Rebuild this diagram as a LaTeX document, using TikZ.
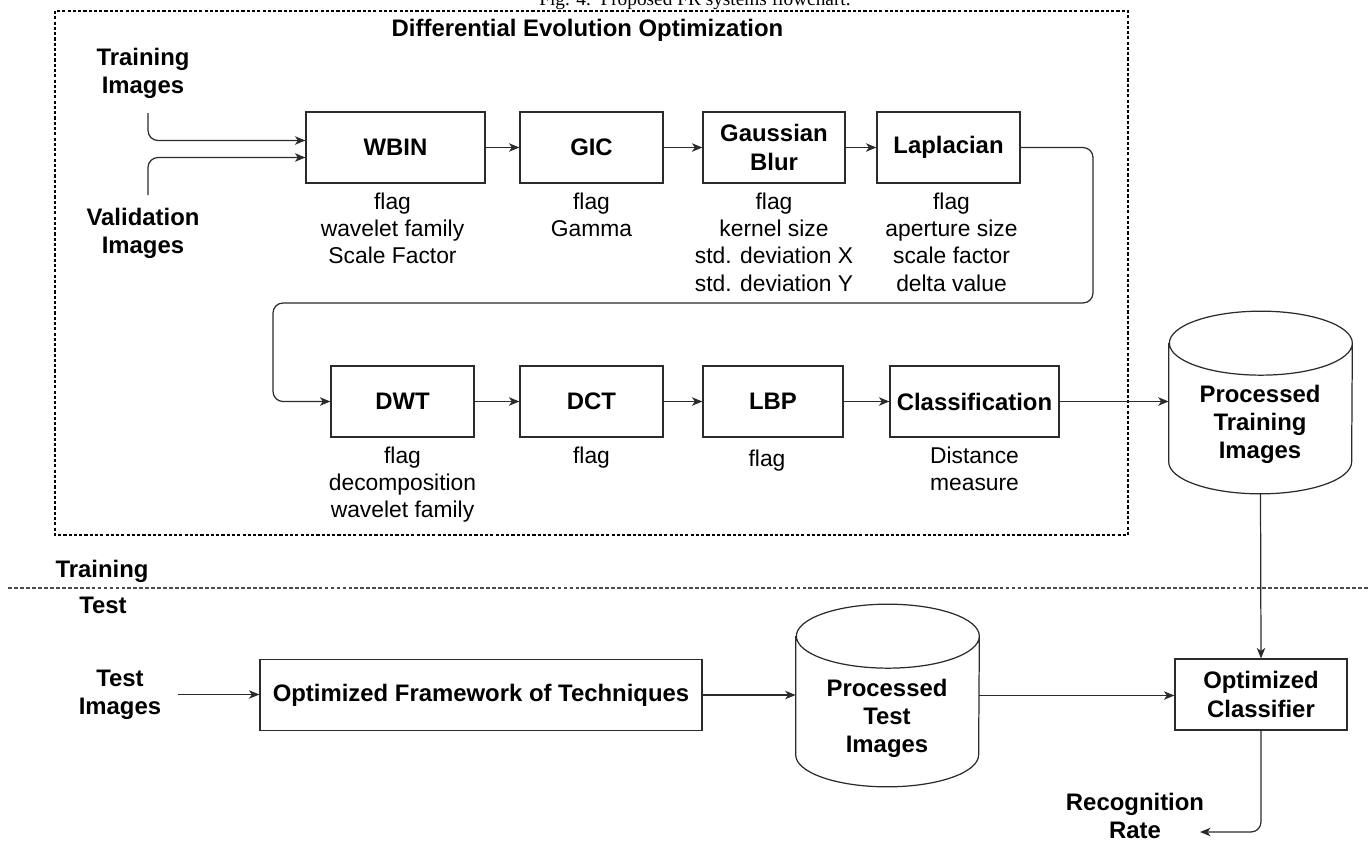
\documentclass[tikz,border=0pt]{standalone}
\usepackage{fontspec}
\setmainfont{Liberation Sans}
\newfontfamily\captionserif{Liberation Serif}
\usetikzlibrary{positioning}
\usetikzlibrary{arrows.meta}
\definecolor{linegray}{HTML}{2b2b2b}
\tikzset{x=0.02cm, y=-0.02cm, % one unit is one pixel of the original drawing
    every node/.style={font=\fontsize{13}{15.5}\selectfont},
    block/.style={ % Processing steps
        draw=linegray, line width=0.7pt,
        minimum height=1.42cm, inner sep=0pt, align=center,
        font=\fontsize{13.6}{16}\selectfont\bfseries
    },
    param/.style={align=center, inner sep=0pt}, % Parameters below a step
    title/.style={align=center, inner sep=1pt, font=\fontsize{13.6}{16}\selectfont\bfseries},
    flow/.style={draw=linegray, line width=0.7pt,
        -{Stealth[length=2.1mm, width=1.7mm, inset=0.6mm]}},
    region/.style={draw=black, line width=0.6pt, dash pattern=on 1.8pt off 1.2pt},
    sepline/.style={draw=black!70, line width=0.6pt, dash pattern=on 2.2pt off 1.2pt},
    cylbox/.style={minimum width=3.66cm, minimum height=3.64cm, inner sep=0pt}
}
% Outline of a data store around an empty node
\newcommand{\drawcylinder}[1]{%
    \draw[draw=linegray, line width=0.7pt]
        ([yshift=-0.64cm]#1.north west) -- ([yshift=0.64cm]#1.south west)
        arc[start angle=180, end angle=360, x radius=1.83cm, y radius=0.64cm]
        -- ([yshift=-0.64cm]#1.north east)
        arc[start angle=0, end angle=180, x radius=1.83cm, y radius=0.64cm]
        arc[start angle=180, end angle=360, x radius=1.83cm, y radius=0.64cm];}

\begin{document}
\begin{tikzpicture}
\useasboundingbox (0,0) rectangle (1369,842);

\node[font=\captionserif\fontsize{11}{13}\selectfont, anchor=base] (figcap) at (695,5) {Fig. 4.~~Proposed FR systems flowchart.};
\draw[region] (55,11) rectangle (1128,535);
\node[title] (deo) at (587.5,30) {Differential Evolution Optimization};

\node[title] (trimg) at (143,73) {Training\\Images};
\node[title] (vaimg) at (143,233.5) {Validation\\Images};
\coordinate (trstart) at (148,113);
\coordinate (vastart) at (148,195);

%%%%%%%%%%%%%%%%%%%%%%%%%%%%%%%%%%
\node[block, minimum width=3.58cm] (wbin)  at (395.5,147.5) {WBIN};
\node[block, minimum width=2.86cm] (gic)   at (591.5,147.5) {GIC};
\node[block, minimum width=2.84cm] (gblur) at (774,147.5)   {Gaussian\\Blur};
\node[block, minimum width=2.86cm] (lap)   at (948.5,147.5) {Laplacian};

\node[param, below=0.18cm of wbin, xshift=-0.06cm] (wbinp)  {flag\\wavelet family\\Scale Factor};
\node[param, below=0.18cm of gic]                 (gicp)   {flag\\Gamma};
\node[param, below=0.18cm of gblur]               (gblurp) {flag\\kernel size\\std. deviation X\\std. deviation Y};
\node[param, below=0.18cm of lap, xshift=0.06cm]  (lapp)   {flag\\aperture size\\scale factor\\delta value};

%%%%%%%%%%%%%%%%%%%%%%%%%%%%%%%%%%
\node[block, minimum width=2.86cm] (dwt) at (402.5,401.5) {DWT};
\node[block, minimum width=2.86cm] (dct) at (591.5,401.5) {DCT};
\node[block, minimum width=2.80cm] (lbp) at (773,401.5)   {LBP};
\node[block, minimum width=3.38cm] (cls) at (974.5,401.5) {Classification};

\node[param, below=0.18cm of dwt]                 (dwtp) {flag\\decomposition\\wavelet family};
\node[param, below=0.18cm of dct]                 (dctp) {flag};
\node[param, below=0.24cm of lbp, xshift=-0.12cm] (lbpp) {flag};
\node[param, below=0.18cm of cls]                 (clsp) {Distance\\measure};

\node[cylbox] (ptrain) at (1260.5,402.5) {};
\drawcylinder{ptrain}
\node[title] (ptrainlbl) at (1260,424.5) {Processed\\Training\\Images};

%%%%%%%%%%%%%%%%%%%%%%%%%%%%%%%%%%
\draw[sepline] (8,588) -- (1369,588);
\node[title] (trlbl) at (102,571) {Training};
\node[title] (tslbl) at (103,605) {Test};

\node[title] (timg) at (120,694.5) {Test\\Images};
\node[block, minimum width=8.84cm] (ofw) at (481,695) {Optimized Framework of Techniques};
\node[cylbox] (ptest) at (887.5,695.5) {};
\drawcylinder{ptest}
\node[title] (ptestlbl) at (887,718) {Processed\\Test\\Images};
\node[block, minimum width=3.44cm] (ocls) at (1261,694.5) {Optimized\\Classifier};
\node[title] (rrate) at (1135,816) {Recognition\\Rate};
\coordinate (rrend) at (1200,832);

%%%%%%%%%%%%%%%%%%%%%%%%%%%%%%%%%%
\draw[flow, rounded corners=0.2cm] (trstart) |- ([yshift=0.14cm]wbin.west);
\draw[flow, rounded corners=0.2cm] (vastart) |- ([yshift=-0.2cm]wbin.west);
\draw[flow] (wbin) -- (gic);
\draw[flow] (gic) -- (gblur);
\draw[flow] (gblur) -- (lap);
\draw[flow, rounded corners=0.2cm] (lap.east) -| (1093,303) -| (273,401.5) -- (dwt.west);
\draw[flow] (dwt) -- (dct);
\draw[flow] (dct) -- (lbp);
\draw[flow] (lbp) -- (cls);
\draw[flow] (cls.east) -- (cls.east -| ptrain.west);
\draw[flow] (ptrain.south) -- (ocls.north);
\draw[flow, shorten <=0.3cm] (timg.east) -- (timg.east -| ofw.west);
\draw[flow] (ofw.east) -- (ofw.east -| ptest.west);
\draw[flow] (ptest.east) -- (ptest.east -| ocls.west);
\draw[flow, rounded corners=0.2cm] (ocls.south) |- (rrend);
\end{tikzpicture}
\end{document}
